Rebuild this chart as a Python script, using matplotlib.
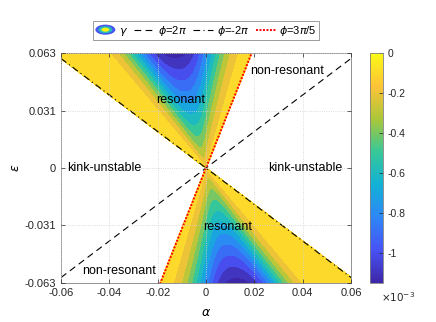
import numpy as np
import matplotlib
matplotlib.use('Agg')
import matplotlib.pyplot as plt
from matplotlib.colors import LinearSegmentedColormap, Normalize
from matplotlib.cm import ScalarMappable
from matplotlib.patches import Ellipse, Patch
from matplotlib.legend_handler import HandlerBase

plt.rcParams['font.family'] = ['Liberation Sans', 'DejaVu Sans']
plt.rcParams['mathtext.fontset'] = 'dejavusans'

# parula-like colormap (MATLAB default)
parula_colors = [(0.2422, 0.1504, 0.6603), (0.2810, 0.3228, 0.9579),
                 (0.1786, 0.5289, 0.9682), (0.0689, 0.6948, 0.8394),
                 (0.2161, 0.7843, 0.5923), (0.6720, 0.7793, 0.2227),
                 (0.9970, 0.7659, 0.2199), (0.9769, 0.9839, 0.0805)]
parula = LinearSegmentedColormap.from_list('parula', parula_colors)

# axes / ticks
alpha_lim = [-0.06, 0.06]
eps_lim = [-0.063, 0.063]
alpha_ticks = [-0.06, -0.04, -0.02, 0, 0.02, 0.04, 0.06]
alpha_ticklabels = ['-0.06', '-0.04', '-0.02', '0', '0.02', '0.04', '0.06']
eps_ticks = [-0.063, -0.031, 0, 0.031, 0.063]
eps_ticklabels = ['-0.063', '-0.031', '0', '0.031', '0.063']

# colour scale of gamma (x1e-3)
gamma_range = [-1.15e-3, 0.0]
gamma_levels = np.array([-1.16, -1.1, -1.0, -0.9, -0.8, -0.7, -0.6, -0.5,
                         -0.4, -0.3, -0.2, -0.1, 0.0]) * 1e-3
cbar_ticks = [0, -0.2e-3, -0.4e-3, -0.6e-3, -0.8e-3, -1e-3]
cbar_ticklabels = ['0', '-0.2', '-0.4', '-0.6', '-0.8', '-1']

# boundary lines phi = 2*pi*alpha/eps
phi_values = [2 * np.pi, -2 * np.pi, 3 * np.pi / 5]
phi_labels = [r'$\phi$=2$\pi$', r'$\phi$=-2$\pi$', r'$\phi$=3$\pi$/5']

# growth-rate shape (u = alpha/eps)
peak_gamma = 1.15e-3      # depth at eps = 0.063
peak_u = -0.21
peak_width = 0.30
peak_power = 2.54
vertex_gamma = 0.12e-3    # level kept near the origin

# region labels
labels = ['resonant', 'resonant', 'non-resonant', 'non-resonant',
          'kink-unstable', 'kink-unstable']
label_alpha = [-0.0103, 0.0091, 0.0335, -0.036, -0.042, 0.041]
label_eps = [0.0372, -0.0323, 0.0531, -0.0564, 0.0, 0.0]


def growth(u, e):
    t = peak_gamma * np.exp(-(np.abs(u - peak_u) / peak_width) ** peak_power)
    base = np.minimum(t, vertex_gamma)
    return -(base + np.maximum(t - vertex_gamma, 0) * np.abs(e) / eps_lim[1])


fig = plt.figure(figsize=(4.36, 3.22), dpi=100)
ax = fig.add_axes([61 / 436, 1 - 283 / 322, 290 / 436, 230 / 322])

norm = Normalize(*gamma_range)
band_colors = [parula(norm(max(v, gamma_range[0]))) for v in gamma_levels[:-1]]

u_lo = phi_values[1] / (2 * np.pi)
u_hi = phi_values[2] / (2 * np.pi)
uu, ee = np.meshgrid(np.linspace(u_lo, u_hi, 500), np.linspace(1e-6, eps_lim[1], 300))
for sgn in (1, -1):
    cs = ax.contourf(uu * ee * sgn, ee * sgn, growth(uu, ee), levels=gamma_levels,
                     colors=band_colors)
    cs.set_edgecolor('face')
    cs.set_linewidth(0.4)

a_line = np.array(alpha_lim)
line_kw = [dict(color='black', lw=0.8, dashes=(6, 4)),
           dict(color='black', lw=0.8, dashes=(6, 3, 1, 3)),
           dict(color='red', lw=1.4, linestyle=(0, (1, 0.8)))]
line_handles = []
for phi, lab, kw in zip(phi_values, phi_labels, line_kw):
    h, = ax.plot(a_line, 2 * np.pi * a_line / phi, label=lab, **kw)
    line_handles.append(h)

for lab, a, e in zip(labels, label_alpha, label_eps):
    ax.text(a, e, lab, fontsize=9, ha='center', va='center')

ax.set_xlim(alpha_lim)
ax.set_ylim(eps_lim)
ax.set_xticks(alpha_ticks)
ax.set_xticklabels(alpha_ticklabels)
ax.set_yticks(eps_ticks)
ax.set_yticklabels(eps_ticklabels)
ax.tick_params(direction='in', length=3, width=0.5, labelsize=8, colors='0.15',
               top=True, right=True)
ax.grid(True, color='0.82', linestyle=':', linewidth=0.6)
ax.set_axisbelow(False)
for sp in ax.spines.values():
    sp.set_color('0.5')
    sp.set_linewidth(0.6)
ax.set_xlabel(r'$\alpha$', fontsize=9)
ax.set_ylabel(r'$\epsilon$', fontsize=9, rotation=90)
ax.xaxis.set_label_coords(0.5, -0.105)
ax.yaxis.set_label_coords(-0.135, 0.5)


class GammaHandler(HandlerBase):
    def create_artists(self, legend, orig_handle, xdescent, ydescent, width,
                       height, fontsize, trans):
        cx, cy = width / 2 - xdescent, height / 2 - ydescent
        rings = [(1.0, parula(0.15)), (0.7, parula(0.5)), (0.4, parula(0.98))]
        return [Ellipse((cx, cy), width * s, height * 1.3 * s, facecolor=c,
                        edgecolor='none', transform=trans) for s, c in rings]


gamma_handle = Patch(label=r'$\gamma$')
leg = ax.legend([gamma_handle] + line_handles,
                [r'$\gamma$'] + phi_labels,
                handler_map={gamma_handle: GammaHandler()},
                loc='lower center', bbox_to_anchor=(0.5, 1.055), ncol=4,
                fontsize=8, handlelength=1.8, handletextpad=0.3,
                columnspacing=0.6, borderpad=0.25, fancybox=False,
                framealpha=1, borderaxespad=0)
leg.get_frame().set_edgecolor('0.55')
leg.get_frame().set_linewidth(0.6)

cax = fig.add_axes([370 / 436, 1 - 283 / 322, 13 / 436, 230 / 322])
cb = fig.colorbar(ScalarMappable(norm=norm, cmap=parula), cax=cax)
cb.set_ticks(cbar_ticks)
cb.set_ticklabels(cbar_ticklabels)
cb.ax.tick_params(direction='in', length=3, width=0.5, labelsize=7.5, colors='0.15')
cb.outline.set_edgecolor('0.5')
cb.outline.set_linewidth(0.6)
fig.text(398 / 436, 1 - 297 / 322, r'$\times10^{-3}$', fontsize=7.5,
         ha='center', va='center', color='0.15')

fig.savefig('out.png', dpi=100)
